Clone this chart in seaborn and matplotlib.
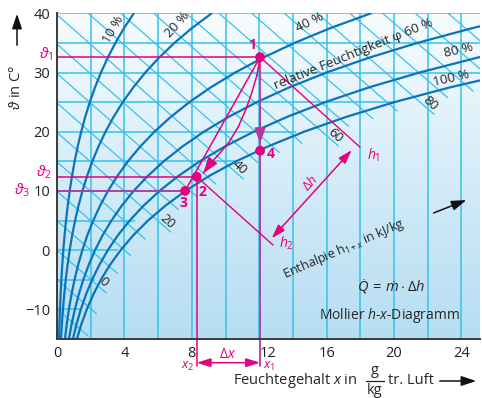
import numpy as np
import pandas as pd
import matplotlib
matplotlib.use("Agg")
import matplotlib.pyplot as plt
import seaborn as sns
from matplotlib.colors import LinearSegmentedColormap
from matplotlib.transforms import ScaledTranslation

# saturation vapour pressure of water in kPa (table, 2.5 K steps)
temp_c = [-15, -12.5, -10, -7.5, -5, -2.5, 0, 2.5, 5, 7.5, 10, 12.5, 15,
          17.5, 20, 22.5, 25, 27.5, 30, 32.5, 35, 37.5, 40]
p_sat = [0.192, 0.235, 0.287, 0.349, 0.422, 0.509, 0.611, 0.731, 0.872,
         1.036, 1.226, 1.447, 1.702, 1.996, 2.333, 2.719, 3.160, 3.663,
         4.234, 4.881, 5.613, 6.438, 7.368]
p_air = 101.325
rh_levels = [10, 20, 40, 60, 80, 100]

# enthalpy lines (kJ/kg), labelled ones and where their label sits (t)
h_levels = list(range(-10, 105, 5))
h_labels = [0, 20, 40, 60, 80]
h_label_t = [-5.4, 4.9, 13.9, 19.45, 24.8]

# grid
x_grid = list(range(2, 25, 2))
t_grid = [-10, -5, 0, 5, 10, 15, 20, 25, 30, 35, 40]
t_grid_end = [1.4, 2.25, 3.6, 4.6, 7.6, 10.6, 14.2, 20.1, 25.1, 25.1, 25.1]

# states 1..4 (x in g/kg, t in degC)
state_no = ['1', '2', '3', '4']
state_x = [12.05, 8.29, 7.6, 12.05]
state_t = [32.6, 12.4, 10.0, 16.8]
# curved path 1 -> 2
path_x = [12.05, 11.87, 11.55, 11.2, 10.76, 10.2, 9.48, 9.1, 8.68]
path_t = [32.6, 29.6, 26.5, 23.7, 20.85, 18.2, 15.8, 14.6, 13.0]
h1_end = (17.98, 17.4)
h2_end = (12.82, 0.86)

XMAX, TMIN, TMAX = 25.1, -15, 40
cyan = '#35c2ec'
blue = '#0a74bb'
pink = '#e5007d'
purple = '#b9369f'

sns.set_theme(style='white')
plt.rcParams['font.family'] = ['Open Sans', 'DejaVu Sans']
plt.rcParams['mathtext.fontset'] = 'custom'
plt.rcParams['mathtext.rm'] = 'Open Sans'
plt.rcParams['mathtext.it'] = 'Open Sans:italic'


def moisture(phi, ps):
    return 622 * phi * ps / (p_air - phi * ps)


def x_of_h(h, t):
    return (h - 1.006 * t) / (2.501 + 0.00186 * t)


def t_of_h(h, x):
    return (h - 2.501 * x) / (1.006 + 0.00186 * x)


temps = np.array(temp_c)
ps = np.array(p_sat)
x_sat = moisture(1.0, ps)

rows = []
for rh in rh_levels:
    for t, p in zip(temp_c, p_sat):
        rows.append({'phi': rh, 't': t, 'x': moisture(rh / 100, p)})
rh_df = pd.DataFrame(rows)

fig = plt.figure(figsize=(4.82, 3.98), dpi=100)
ax = fig.add_axes([57 / 482, 1 - 339 / 398, (480 - 57) / 482, (339 - 13.3) / 398])

grad = np.linspace(0, 1, 256).reshape(-1, 1)
bg = LinearSegmentedColormap.from_list('bg', ['#b6ddf2', '#d4ecf8', '#f8fcfe'])
ax.imshow(grad, extent=[0, XMAX, TMIN, TMAX], origin='lower', aspect='auto',
          cmap=bg, zorder=0)

for xg in x_grid:
    ax.axvline(xg, color=cyan, lw=1.1, zorder=1)
for tg, xe in zip(t_grid, t_grid_end):
    ax.hlines(tg, 0, xe, color=cyan, lw=1.1, zorder=1)

# enthalpy lines
for h in h_levels:
    if h / 1.006 <= TMAX:
        x0, t0 = 0.0, h / 1.006
    else:
        x0, t0 = x_of_h(h, TMAX), TMAX
    if h in h_labels:
        t1 = h_label_t[h_labels.index(h)] - 1.85
        x1 = x_of_h(h, t1)
    else:
        diff = x_of_h(h, temps) - x_sat
        tc = np.interp(0, diff[::-1], temps[::-1])
        x1 = x_of_h(h, tc) + 0.5
        t1 = t_of_h(h, x1)
    if x1 > XMAX:
        x1, t1 = XMAX, t_of_h(h, XMAX)
    if t1 < TMIN:
        t1, x1 = TMIN, x_of_h(h, TMIN)
    ax.plot([x0, x1], [t0, t1], color=cyan, lw=0.9, zorder=1)

for h, tl in zip(h_labels, h_label_t):
    ax.text(x_of_h(h, tl) + 0.55, tl, str(h), rotation=-42, fontsize=9.5,
            color='#222222', ha='center', va='center', zorder=5)

sns.lineplot(data=rh_df, x='x', y='t', units='phi', estimator=None, sort=False,
             color=blue, lw=1.6, ax=ax, zorder=3)

# process lines
ax.plot([0, state_x[0]], [state_t[0]] * 2, color=pink, lw=1.1, zorder=4)
ax.plot([0, state_x[1]], [state_t[1]] * 2, color=pink, lw=1.1, zorder=4)
ax.plot([0, state_x[2]], [state_t[2]] * 2, color=purple, lw=1.3, zorder=4)
ax.plot([state_x[1]] * 2, [state_t[1], -19.6], color=pink, lw=1.1,
        zorder=4, clip_on=False)
ax.plot([state_x[0]] * 2, [state_t[0], -19.6], color=purple, lw=1.3,
        zorder=4, clip_on=False)
ax.plot([state_x[2], state_x[0]], [state_t[2], state_t[0]], color=pink, lw=1.1, zorder=4)
ax.plot(path_x, path_t, color=pink, lw=1.1, zorder=4)
ax.plot([state_x[0], h1_end[0]], [state_t[0], h1_end[1]], color=pink, lw=1.0, zorder=4)
ax.plot([state_x[1], h2_end[0]], [state_t[1], h2_end[1]], color=pink, lw=1.0, zorder=4)

head = dict(arrowstyle='-|>,head_length=0.8,head_width=0.28', lw=1.1,
            shrinkA=0, shrinkB=0)
ax.annotate('', xy=(state_x[0], 18.0), xytext=(state_x[0], 24),
            arrowprops=dict(color=purple, **head), zorder=5)
ax.annotate('', xy=(path_x[-1], path_t[-1]), xytext=(path_x[-2], path_t[-2]),
            arrowprops=dict(color=pink, **head), zorder=5)
both = dict(arrowstyle='<|-|>,head_length=0.7,head_width=0.22', lw=1.1,
            shrinkA=0, shrinkB=0, color=pink)
ax.annotate('', xy=(12.74, 2.0), xytext=(17.49, 16.9), arrowprops=both, zorder=5)
ax.annotate('', xy=(8.29, -19.0), xytext=(12.05, -19.0), arrowprops=both,
            annotation_clip=False, zorder=5)

sns.scatterplot(x=state_x, y=state_t, color=pink, s=50, edgecolor='none',
                zorder=6, ax=ax)
for lbl, xx, tt in zip(state_no, [11.57, 8.65, 7.5, 12.68], [34.6, 9.9, 7.9, 16.2]):
    ax.text(xx, tt, lbl, color=pink, fontsize=10, fontweight='bold',
            ha='center', va='center', zorder=6)

ax.text(18.77, 16.1, '$h_1$', color=pink, fontsize=10, ha='center', va='center')
ax.text(13.63, 1.15, '$h_2$', color=pink, fontsize=10, ha='center', va='center')
ax.text(15.0, 11.3, r'$\Delta h$', color=pink, fontsize=9.5, rotation=48,
        ha='center', va='center')
ax.text(10.1, -17.6, r'$\Delta x$', color=pink, fontsize=10, ha='center',
        va='center', clip_on=False)
ax.text(8.15, -19.6, '$x_2$', color=pink, fontsize=9.5, ha='right', va='center',
        clip_on=False)
ax.text(12.2, -19.6, '$x_1$', color=pink, fontsize=9.5, ha='left', va='center',
        clip_on=False)
ax.text(-0.2, 33.0, r'$\vartheta_1$', color=pink, fontsize=11, ha='right',
        va='center', clip_on=False)
ax.text(-0.3, 13.2, r'$\vartheta_2$', color=pink, fontsize=11, ha='right',
        va='center', clip_on=False)
ax.text(-1.6, 10.15, r'$\vartheta_3$', color=pink, fontsize=11, ha='right',
        va='center', clip_on=False)

# curve labels
ax.text(3.32, 37.2, '10 %', rotation=60, fontsize=9.5, ha='center', va='center', zorder=5)
ax.text(7.12, 38.0, '20 %', rotation=48, fontsize=9.5, ha='center', va='center', zorder=5)
ax.text(15.0, 38.4, '40 %', rotation=26, fontsize=9.5, ha='center', va='center', zorder=5)
ax.text(17.6, 33.1, 'relative Feuchtigkeit \u03c6 60 %', rotation=22, fontsize=9.5,
        ha='center', va='center', zorder=5)
ax.text(23.8, 33.8, '80 %', rotation=13, fontsize=9.5, ha='center', va='center', zorder=5)
ax.text(23.4, 29.0, '100 %', rotation=13, fontsize=9.5, ha='center', va='center', zorder=5)

ax.text(17.0, 0.2, r'Enthalpie $\mathrm{h}_{1+x}$ in kJ/kg', rotation=23.5,
        fontsize=9.1, ha='center', va='center', zorder=5)
ax.text(19.8, -6.1, r'$\dot{Q}\,=\,\dot{m}\cdot\Delta h$', fontsize=10.5,
        ha='center', va='center', zorder=5)
ax.text(19.75, -11.1, 'Mollier $h$-$x$-Diagramm', fontsize=10, ha='center',
        va='center', zorder=5)

ax.set_xlim(0, XMAX)
ax.set_ylim(TMIN, TMAX)
ax.set_xticks(list(range(0, 25, 4)))
ax.set_xticklabels([str(v) for v in range(0, 25, 4)])
ax.set_yticks([-10, 0, 10, 20, 30, 40])
ax.set_yticklabels(['\u221210', '0', '10', '20', '30', '40'])
ax.tick_params(length=0, labelsize=10.5, pad=5, colors='#222222')
for lbl in ax.get_xticklabels():
    if lbl.get_text() == '12':
        lbl.set_transform(lbl.get_transform() +
                          ScaledTranslation(0.09, 0, fig.dpi_scale_trans))
ax.set_xlabel('')
ax.set_ylabel('')
for side in ['top', 'right']:
    ax.spines[side].set_visible(False)
for side in ['left', 'bottom']:
    ax.spines[side].set_color('#3a3a3a')
    ax.spines[side].set_linewidth(1.4)
    ax.spines[side].set_zorder(7)


def fp(xp, yp):
    return xp / 482, 1 - yp / 398


def fig_arrow(p0, p1):
    fig.add_artist(matplotlib.patches.FancyArrowPatch(
        fp(*p0), fp(*p1), transform=fig.transFigure,
        arrowstyle='-|>,head_length=9,head_width=3', color='#111111', lw=1.1))


fig.text(*fp(17, 87), r'$\vartheta$' + ' in C\u00b0', rotation=90, fontsize=10.5,
         ha='center', va='center')
fig_arrow((17, 48), (17, 11))
fig.text(*fp(233, 381), 'Feuchtegehalt $x$ in', fontsize=10.5, ha='left', va='center')
fig.text(*fp(375, 371), 'g', fontsize=10.5, ha='center', va='center')
fig.text(*fp(375, 391), 'kg', fontsize=10.5, ha='center', va='center')
fig.add_artist(matplotlib.lines.Line2D([366 / 482, 384 / 482], [1 - 381 / 398] * 2,
                                       color='#222222', lw=0.9))
fig.text(*fp(388, 381), 'tr. Luft', fontsize=10.5, ha='left', va='center')
fig_arrow((437, 381), (479, 381))
fig_arrow((431, 214), (469, 199))

fig.savefig('out.png', dpi=100)
